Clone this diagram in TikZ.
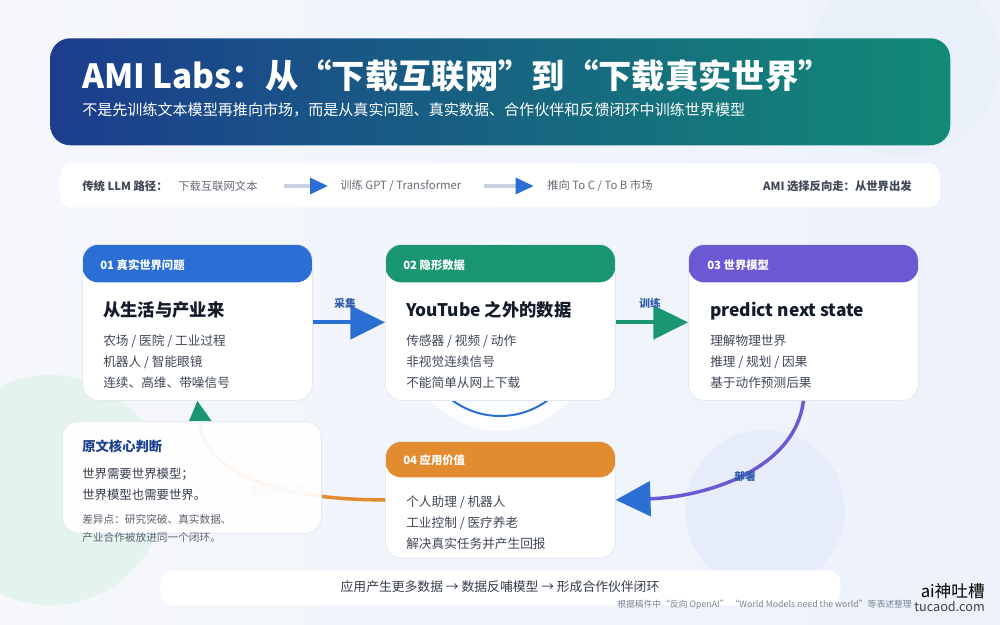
\documentclass[tikz,border=0pt]{standalone}
\usepackage{fontspec}
\setmainfont{Noto Sans CJK SC}
\usetikzlibrary{arrows.meta,calc}
\definecolor{cblue}{HTML}{2B6FD4}
\definecolor{cgreen}{HTML}{1A9670}
\definecolor{cpurple}{HTML}{6A59D3}
\definecolor{corange}{HTML}{E38B2F}
\definecolor{ctext}{HTML}{141B2B}
\definecolor{cgray}{HTML}{404755}
\definecolor{clabel}{HTML}{2E5DAA}
\definecolor{cnavy}{HTML}{1C3F8E}
\definecolor{cborder}{HTML}{E3E8F0}
\definecolor{bgL}{HTML}{F5F7FB}
\definecolor{bgR}{HTML}{EDF2FB}
\definecolor{bannerL}{HTML}{1C3D8D}
\definecolor{bannerR}{HTML}{128A76}
\definecolor{stripline}{HTML}{C7D1DF}
\definecolor{cnote}{HTML}{7B8494}
\definecolor{circTR}{HTML}{EAF0FA}
\definecolor{circG}{HTML}{E5F3EF}
\definecolor{circL}{HTML}{E7ECFB}
\tikzset{
  cardbox/.style={draw=cborder, line width=0.6pt, fill=white, rounded corners=12pt,
    minimum width=172.5pt, anchor=north west, inner sep=0pt},
  cardhdr/.style 2 args={path picture={\fill[#1] (path picture bounding box.north west) rectangle ($(path picture bounding box.north east)+(0,#2)$);}},
  hdrtxt/.style={anchor=base west, inner sep=0pt, text=white, font=\bfseries\fontsize{8.5pt}{10pt}\selectfont},
  ttltxt/.style={anchor=base west, inner sep=0pt, text=ctext, font=\bfseries\fontsize{13pt}{15pt}\selectfont},
  lntxt/.style={anchor=base west, inner sep=0pt, text=cgray, font=\fontsize{9.5pt}{11pt}\selectfont},
  lbltxt/.style={inner sep=0pt, text=clabel, font=\bfseries\fontsize{8pt}{9pt}\selectfont},
  striptxt/.style={anchor=west, inner sep=0pt, text=cgray!80, font=\fontsize{8.5pt}{10pt}\selectfont},
  stripbold/.style={anchor=west, inner sep=0pt, text=cgray, font=\bfseries\fontsize{8.5pt}{10pt}\selectfont},
  striparrow/.style={draw=stripline, line width=2.4pt, -{Triangle[length=13.5pt, width=12pt, color=cblue]}},
  bigarrow/.style={line width=3pt, -{Triangle[length=26pt, width=25pt, color=#1]}},
}
\begin{document}
\begin{tikzpicture}[x=0.75pt,y=-0.75pt]
\useasboundingbox (0,0) rectangle (1000,625);
% background
\shade[left color=bgL, right color=bgR] (0,0) rectangle (1000,625);
\fill[circTR] (905,62) circle[radius=95];
\fill[circG] (50,490) circle[radius=115];
\fill[circL] (765,510) circle[radius=80];
\fill[white, opacity=0.85] (500,336) circle[radius=95];
\draw[cblue, line width=1.5pt] (500,336) circle[radius=80];

% banner
\node[anchor=north west, rounded corners=15pt, minimum width=675pt, minimum height=80.25pt,
  left color=bannerL, right color=bannerR, inner sep=0pt] (banner) at (50,38) {};
\node[anchor=base west, inner sep=0pt, text=white, font=\bfseries\fontsize{25pt}{30pt}\selectfont]
  (title) at (82,88) {AMI Labs：从“下载互联网”到“下载真实世界”};
\node[anchor=base west, inner sep=0pt, text=white, font=\fontsize{11.3pt}{13pt}\selectfont]
  (subtitle) at (82,115) {不是先训练文本模型再推向市场，而是从真实问题、真实数据、合作伙伴和反馈闭环中训练世界模型};

% strip
\node[anchor=north west, fill=white, rounded corners=9pt, minimum width=660pt, minimum height=33pt, inner sep=0pt] (strip) at (60,163) {};
\node[stripbold] (s0) at (82,186) {传统 LLM 路径：};
\node[striptxt] (s1) at (178,186) {下载互联网文本};
\node[striptxt] (s2) at (340,186) {训练 GPT / Transformer};
\node[striptxt] (s3) at (547,186) {推向 To C / To B 市场};
\node[stripbold, anchor=east] (s4) at (912,186) {AMI 选择反向走：从世界出发};
\draw[striparrow, shorten <=19.5pt, shorten >=9pt] (s1.east) -- (s2.west);
\draw[striparrow, shorten <=17pt, shorten >=10pt] (s2.east) -- (s3.west);

% cards
\node[cardbox, minimum height=117pt, cardhdr={cblue}{38}] (c1) at (82,244) {};
\node[cardbox, minimum height=117pt, cardhdr={cgreen}{38}] (c2) at (385,244) {};
\node[cardbox, minimum height=117pt, cardhdr={cpurple}{38}] (c3) at (688,244) {};
\node[cardbox, minimum height=87.75pt, cardhdr={corange}{36}] (c4) at (385,441) {};

\node[hdrtxt] (h1) at (100,269) {01 真实世界问题};
\node[ttltxt] (t1) at (103,316) {从生活与产业来};
\node[lntxt] (l11) at (103,345) {农场 / 医院 / 工业过程};
\node[lntxt] (l12) at (103,366) {机器人 / 智能眼镜};
\node[lntxt] (l13) at (103,387) {连续、高维、带噪信号};

\node[hdrtxt] (h2) at (403,269) {02 隐形数据};
\node[ttltxt] (t2) at (406,316) {YouTube 之外的数据};
\node[lntxt] (l21) at (406,345) {传感器 / 视频 / 动作};
\node[lntxt] (l22) at (406,366) {非视觉连续信号};
\node[lntxt] (l23) at (406,387) {不能简单从网上下载};

\node[hdrtxt] (h3) at (707,269) {03 世界模型};
\node[ttltxt] (t3) at (710,316) {predict next state};
\node[lntxt] (l31) at (710,345) {理解物理世界};
\node[lntxt] (l32) at (710,366) {推理 / 规划 / 因果};
\node[lntxt] (l33) at (710,387) {基于动作预测后果};

\node[hdrtxt] (h4) at (403,464) {04 应用价值};
\node[lntxt] (l41) at (406,506) {个人助理 / 机器人};
\node[lntxt] (l42) at (406,527) {工业控制 / 医疗养老};
\node[lntxt] (l43) at (406,548) {解决真实任务并产生回报};

% connectors
\draw[cblue, bigarrow=cblue] (c1.east) -- (c2.west);
\node[lbltxt] (a1) at (345,303) {采集};
\draw[cgreen, bigarrow=cgreen] (c2.east) -- (c3.west);
\node[lbltxt] (a2) at (650,303) {训练};
\draw[cpurple, line width=2.6pt, -{Triangle[length=26pt, width=26pt, color=cblue]}]
  (c3.south) .. controls (795,470) and (705,497) .. (c4.east);
\node[lbltxt] (a3) at (745,476) {部署};
\draw[corange, line width=2.6pt, -{Triangle[length=17pt, width=18pt, color=cgreen]}]
  (c4.west) .. controls (270,500) and (205,470) .. (c1.south);
\node[lbltxt, text=clabel!40] (a4) at (277,490) {新数据回流};

% judgement box
\node[anchor=north west, fill=white, fill opacity=0.93, draw=cborder, line width=0.6pt, rounded corners=12pt,
  minimum width=194.25pt, minimum height=84pt, inner sep=0pt] (judge) at (62,421) {};
\node[anchor=base west, inner sep=0pt, text=cnavy, font=\bfseries\fontsize{10pt}{12pt}\selectfont] (j0) at (82,451) {原文核心判断};
\node[anchor=base west, inner sep=0pt, text=ctext!85, font=\fontsize{9.3pt}{11pt}\selectfont] (j1) at (82,478) {世界需要世界模型；};
\node[anchor=base west, inner sep=0pt, text=ctext!85, font=\fontsize{9.3pt}{11pt}\selectfont] (j2) at (82,499) {世界模型也需要世界。};
\node[anchor=base west, inner sep=0pt, text=cgray!85, font=\fontsize{8pt}{10pt}\selectfont] (j3) at (82,523) {差异点：研究突破、真实数据、};
\node[anchor=base west, inner sep=0pt, text=cgray!85, font=\fontsize{8pt}{10pt}\selectfont] (j4) at (82,541) {产业合作被放进同一个闭环。};

% bottom
\node[anchor=north west, fill=white, rounded corners=9pt, minimum width=510pt, minimum height=26.25pt, inner sep=0pt] (bottom) at (160,570) {};
\node[inner sep=0pt, text=ctext!85, font=\fontsize{9.6pt}{12pt}\selectfont] (btxt) at (500,587) {应用产生更多数据 → 数据反哺模型 → 形成合作伙伴闭环};
\node[anchor=base east, inner sep=0pt, text=cnote, font=\fontsize{6.6pt}{7pt}\selectfont] (note) at (912,607) {根据稿件中“反向 OpenAI” “World Models need the world”等表述整理};
\node[anchor=base east, inner sep=0pt, text=black, font=\fontsize{12.5pt}{14pt}\selectfont] (wm1) at (985,597) {ai神吐槽};
\node[anchor=base east, inner sep=0pt, text=black!75, font=\fontsize{9.5pt}{11pt}\selectfont] (wm2) at (985,611) {tucaod.com};
\end{tikzpicture}
\end{document}
